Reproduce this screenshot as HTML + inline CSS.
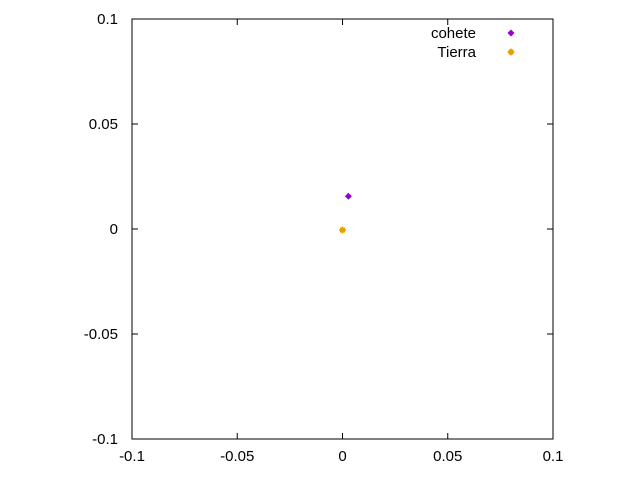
<!DOCTYPE html>
<html><head><meta charset="utf-8"><style>body{margin:0;background:#fff}svg{display:block;font-family:"Liberation Sans",sans-serif;font-size:15px}</style></head>
<body>
<svg id="c" width="640" height="480"></svg>
<script>
const xTicks=[-0.1,-0.05,0,0.05,0.1];
const yTicks=[-0.1,-0.05,0,0.05,0.1];
const xLabels=["-0.1","-0.05","0","0.05","0.1"];
const yLabels=["-0.1","-0.05","0","0.05","0.1"];
const seriesNames=["cohete","Tierra"];
const seriesColors=["#9400d3","#e69f00"];
const coheteX=[0.0028];
const coheteY=[0.0156];
const tierraX=[0];
const tierraY=[-0.0005];
const L=132,R=553,T=19,B=439;
const sx=v=>L+(v+0.1)/0.2*(R-L);
const sy=v=>B-(v+0.1)/0.2*(B-T);
const svg=document.getElementById('c');
const NS='http://www.w3.org/2000/svg';
function mk(t,a,p){const e=document.createElementNS(NS,t);for(const k in a)e.setAttribute(k,a[k]);(p||svg).appendChild(e);return e;}
const frame=mk('rect',{x:L,y:T,width:R-L,height:B-T,fill:'none',stroke:'#000','stroke-width':1});


xTicks.forEach((v,i)=>{const x=sx(v);
mk('line',{x1:x,y1:B,x2:x,y2:B-6,stroke:'#000'});mk('line',{x1:x,y1:T,x2:x,y2:T+6,stroke:'#000'});
const t=mk('text',{x:x,y:B+22,'text-anchor':'middle'});t.textContent=xLabels[i];

});
yTicks.forEach((v,i)=>{const y=sy(v);
mk('line',{x1:L,y1:y,x2:L+6,y2:y,stroke:'#000'});mk('line',{x1:R,y1:y,x2:R-6,y2:y,stroke:'#000'});
const t=mk('text',{x:L-14,y:y+5,'text-anchor':'end'});t.textContent=yLabels[i];

});
function diamond(x,y,c){const p=mk('path',{d:`M${x} ${y-3.5}L${x+3.5} ${y}L${x} ${y+3.5}L${x-3.5} ${y}Z`,fill:c});return p;}
function star(x,y,c){const g=mk('g',{});mk('rect',{x:x-2.5,y:y-2.5,width:5,height:5,fill:c},g);mk('rect',{x:x-0.7,y:y-3.5,width:1.4,height:7,fill:c},g);mk('rect',{x:x-3.5,y:y-0.7,width:7,height:1.4,fill:c},g);return g;}
coheteX.forEach((v,i)=>{const p=diamond(sx(v),sy(coheteY[i]),seriesColors[0]);

});
tierraX.forEach((v,i)=>{const p=star(sx(v),sy(tierraY[i]),seriesColors[1]);

});
seriesNames.forEach((n,i)=>{const y=33+i*19;
const t=mk('text',{x:476,y:y+5,'text-anchor':'end'});t.textContent=n;


const m=i===0?diamond(511,y,seriesColors[0]):star(511,y,seriesColors[1]);

});
</script>
</body></html>
